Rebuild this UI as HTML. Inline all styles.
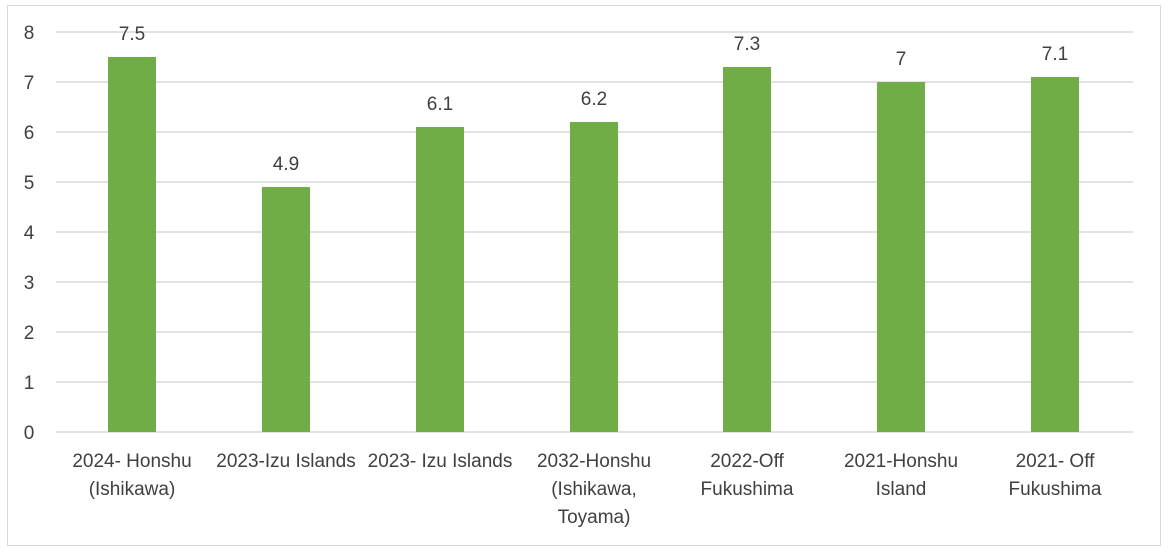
<!DOCTYPE html>
<html><head><style>
html,body{margin:0;padding:0;background:#fff;}
svg{display:block;}
text{font-family:"Liberation Sans",sans-serif;fill:#404040;font-size:19px;}
</style></head><body>
<svg width="1168" height="556" viewBox="0 0 1168 556">
<rect x="7.5" y="5.5" width="1153" height="540" fill="#fff" stroke="#d9d9d9" stroke-width="1"/>
<g stroke="#d9d9d9" stroke-width="1.5">
<line x1="56" x2="1133" y1="32" y2="32"/>
<line x1="56" x2="1133" y1="82" y2="82"/>
<line x1="56" x2="1133" y1="132" y2="132"/>
<line x1="56" x2="1133" y1="182" y2="182"/>
<line x1="56" x2="1133" y1="232" y2="232"/>
<line x1="56" x2="1133" y1="282" y2="282"/>
<line x1="56" x2="1133" y1="332" y2="332"/>
<line x1="56" x2="1133" y1="382" y2="382"/>
<line x1="56" x2="1133" y1="432" y2="432"/>
</g>
<g text-anchor="middle">
<text x="29" y="39">8</text><text x="29" y="89">7</text><text x="29" y="139">6</text>
<text x="29" y="189">5</text><text x="29" y="239">4</text><text x="29" y="289">3</text>
<text x="29" y="339">2</text><text x="29" y="389">1</text><text x="29" y="439">0</text>
</g>
<g fill="#70ad47">
<rect x="108" y="57" width="48" height="375"/>
<rect x="262" y="187" width="48" height="245"/>
<rect x="416" y="127" width="48" height="305"/>
<rect x="570" y="122" width="48" height="310"/>
<rect x="723" y="67" width="48" height="365"/>
<rect x="877" y="82" width="48" height="350"/>
<rect x="1031" y="77" width="48" height="355"/>
</g>
<g text-anchor="middle">
<text x="132" y="40">7.5</text>
<text x="286" y="170">4.9</text>
<text x="440" y="110">6.1</text>
<text x="594" y="105">6.2</text>
<text x="747" y="50">7.3</text>
<text x="901" y="65">7</text>
<text x="1055" y="60">7.1</text>
</g>
<g text-anchor="middle">
<text x="132" y="467">2024- Honshu</text><text x="132" y="495">(Ishikawa)</text>
<text x="286" y="467">2023-Izu Islands</text>
<text x="440" y="467">2023- Izu Islands</text>
<text x="594" y="467">2032-Honshu</text><text x="594" y="495">(Ishikawa,</text><text x="594" y="523">Toyama)</text>
<text x="747" y="467">2022-Off</text><text x="747" y="495">Fukushima</text>
<text x="901" y="467">2021-Honshu</text><text x="901" y="495">Island</text>
<text x="1055" y="467">2021- Off</text><text x="1055" y="495">Fukushima</text>
</g>
</svg>
</body></html>
